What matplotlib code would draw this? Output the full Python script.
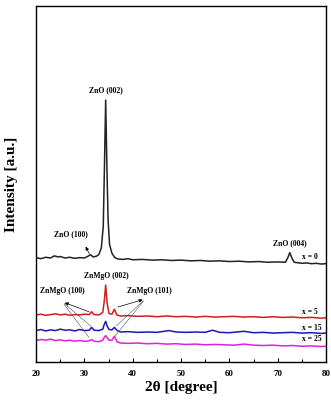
import matplotlib
matplotlib.use("Agg")
import matplotlib.pyplot as plt

# 2theta positions and intensities (arbitrary units)
two_theta_0 = [20, 21, 22, 23, 23.8, 24.5, 25, 26, 27, 28, 29, 30, 30.6, 31.3, 31.8, 32.5,
               33.0, 33.5, 33.9, 34.15, 34.4, 34.65, 34.9, 35.2, 35.7, 36.3, 37, 38, 39, 40,
               42, 44, 46, 48, 50, 52, 54, 56, 58, 60, 62, 64, 66, 68, 70, 71.6, 72.1,
               72.5, 72.9, 73.4, 74, 75, 76, 77, 78, 79, 80]
intensity_0 = [29.3, 29.0, 29.4, 29.2, 29.8, 29.5, 29.6, 29.2, 29.4, 29.1, 29.3, 29.2, 29.6, 30.1,
               29.5, 29.7, 30.2, 32.0, 38.0, 55.0, 73.6, 55.0, 40.0, 33.0, 30.5, 29.3, 28.9,
               28.8, 29.0, 28.7, 28.8, 28.6, 28.7, 28.5, 28.6, 28.4, 28.5, 28.3, 28.4, 28.2,
               28.3, 28.1, 28.2, 28.0, 28.1, 28.0, 29.3, 30.7, 29.3, 28.0, 27.9, 27.7,
               27.8, 27.6, 27.7, 27.5, 27.6]

two_theta_5 = [20, 21, 22, 23, 24, 25, 26, 27, 28, 29, 30, 31, 31.5, 32, 33, 33.8, 34.1, 34.4,
               34.7, 35.1, 35.7, 36.2, 36.7, 37.5, 39, 41, 43, 45, 47, 49, 51, 53, 55, 57,
               59, 61, 63, 65, 67, 69, 71, 73, 75, 77, 79, 80]
intensity_5 = [13.2, 13.4, 13.1, 13.3, 13.5, 13.2, 13.4, 13.1, 13.3, 13.2, 13.4, 13.3, 14.1, 13.3,
               13.2, 13.9, 17.0, 21.6, 16.5, 13.6, 13.4, 14.8, 13.2, 12.9, 13.0, 12.8, 12.9,
               12.7, 12.9, 12.7, 12.8, 12.6, 12.8, 12.6, 12.7, 12.8, 12.6, 12.7, 12.5, 12.7,
               12.5, 12.6, 12.4, 12.5, 12.3, 12.4]

two_theta_15 = [20, 21, 22, 23, 24, 25, 26, 27, 28, 29, 30, 31, 31.5, 32, 33, 33.8, 34.1, 34.4,
                34.7, 35.1, 35.7, 36.2, 36.8, 37.5, 39, 41, 43, 45, 47.5, 49, 51, 53, 55,
                56.5, 58, 60, 63, 65, 67, 69, 71, 73, 75, 77, 79, 80]
intensity_15 = [8.8, 9.1, 8.7, 9.0, 8.8, 9.2, 8.9, 9.0, 8.7, 9.1, 8.8, 8.9, 9.7, 8.9, 8.8, 9.2,
                10.5, 11.4, 10.1, 9.1, 9.0, 9.7, 8.8, 8.4, 8.5, 8.3, 8.4, 8.3, 8.8, 8.4, 8.3,
                8.4, 8.3, 8.9, 8.3, 8.2, 8.6, 8.2, 8.3, 8.1, 8.2, 8.3, 8.1, 8.2, 8.0, 8.1]

two_theta_25 = [20, 21, 22, 23, 24, 25, 26, 27, 28, 29, 30, 31, 31.5, 32, 33, 33.8, 34.1, 34.4,
                34.7, 35.1, 35.7, 36.2, 36.8, 37.5, 39, 41, 43, 45, 47, 49, 51, 53, 55, 57,
                59, 61, 63, 65, 67, 69, 71, 73, 75, 77, 79, 80]
intensity_25 = [6.0, 6.3, 6.1, 6.4, 6.0, 6.2, 5.9, 6.1, 5.8, 6.0, 5.8, 5.9, 6.3, 5.8, 5.7, 6.1,
                6.9, 7.4, 6.8, 6.1, 6.1, 7.2, 5.6, 5.3, 5.2, 5.3, 5.1, 5.2, 5.0, 5.1, 4.9,
                5.0, 4.8, 4.9, 4.8, 4.7, 5.0, 4.7, 4.6, 4.7, 4.5, 4.6, 4.4, 4.5, 4.3, 4.4]

series = [(two_theta_0, intensity_0, "#222222", "x = 0", 29.5),
          (two_theta_5, intensity_5, "#cc1f1f", "x = 5", 14.0),
          (two_theta_15, intensity_15, "#1a1ab0", "x = 15", 9.6),
          (two_theta_25, intensity_25, "#e020e0", "x = 25", 6.3)]

serif = ["Liberation Serif", "DejaVu Serif"]

fig = plt.figure(figsize=(3.31, 4.03), dpi=100)
ax = fig.add_axes([0.109, 0.102, 0.876, 0.883])

for xs, ys, col, lab, ylab in series:
    ax.plot(xs, ys, color=col, lw=1.1)
    ax.text(75.0, ylab, lab, fontsize=5.5, family=serif, fontweight="bold",
            va="center", ha="left")

ax.set_xlim(20, 80)
ax.set_ylim(0, 100)

# peak labels
bold = dict(fontsize=5.5, family=serif, fontweight="bold", ha="center", va="center")
ax.text(34.5, 76.4, "ZnO (002)", **bold)
ax.text(27.2, 36.0, "ZnO (100)", **bold)
ax.text(72.6, 33.4, "ZnO (004)", **bold)
ax.text(34.5, 24.2, "ZnMgO (002)", **bold)
ax.text(25.5, 19.8, "ZnMgO (100)", **bold)
ax.text(43.4, 20.0, "ZnMgO (101)", **bold)

head = dict(arrowstyle="-|>", color="black", lw=0.5, mutation_scale=5)
line = dict(arrowstyle="-", color="#555555", lw=0.4)
ax.annotate("", xy=(30.0, 33.1), xytext=(31.3, 29.6), arrowprops=head)

ax.annotate("", xy=(25.4, 16.9), xytext=(31.5, 13.8), arrowprops=head)
ax.annotate("", xy=(25.4, 16.9), xytext=(31.8, 9.5), arrowprops=line)
ax.annotate("", xy=(25.4, 16.9), xytext=(31.3, 6.2), arrowprops=line)

ax.annotate("", xy=(42.6, 17.7), xytext=(36.4, 15.2), arrowprops=head)
ax.annotate("", xy=(42.6, 17.7), xytext=(36.2, 9.6), arrowprops=line)
ax.annotate("", xy=(42.6, 17.7), xytext=(36.0, 6.7), arrowprops=line)

ax.set_xticks([20, 30, 40, 50, 60, 70, 80])
ax.set_xticks([25, 35, 45, 55, 65, 75], minor=True)
ax.set_yticks([])
ax.tick_params(axis="x", which="both", direction="in", labelsize=6.5, pad=6)
ax.tick_params(axis="x", which="major", length=3, width=0.8)
ax.tick_params(axis="x", which="minor", length=2, width=0.8)
for lbl in ax.get_xticklabels():
    lbl.set_family(serif)
    lbl.set_fontweight("bold")
for sp in ax.spines.values():
    sp.set_linewidth(1.0)

ax.set_xlabel("2θ [degree]", fontsize=11, family=serif, fontweight="bold", labelpad=2)
ax.set_ylabel("Intensity [a.u.]", fontsize=11, family=serif, fontweight="bold", labelpad=13)

fig.savefig("out.png", dpi=100)
